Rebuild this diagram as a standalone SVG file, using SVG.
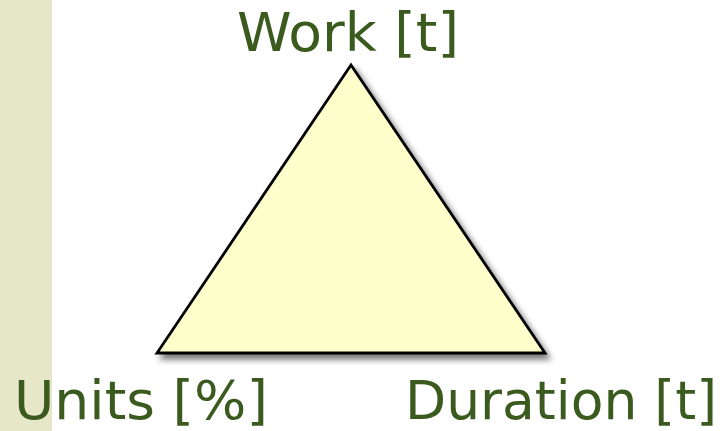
<svg xmlns="http://www.w3.org/2000/svg" width="722" height="431" viewBox="0 0 722 431">
<style>
.lbl{font-family:"DejaVu Sans",Verdana,sans-serif;font-size:54px;fill:#3A5A1E;text-anchor:middle}
</style>
<defs>
<filter id="sh" x="-20%" y="-20%" width="140%" height="140%">
<feGaussianBlur in="SourceAlpha" stdDeviation="3"/>
<feOffset dx="4" dy="5" result="b"/>
<feComponentTransfer><feFuncA type="linear" slope="0.55"/></feComponentTransfer>
<feMerge><feMergeNode/><feMergeNode in="SourceGraphic"/></feMerge>
</filter>
</defs>
<rect x="0" y="0" width="722" height="431" fill="#FFFFFF"/>
<rect x="0" y="0" width="52" height="431" fill="#E6E6C8"/>
<g id="triangle">
<polygon points="351,65 157,353 545,353" fill="#FFFFCC" stroke="#000" stroke-width="2.8" stroke-linejoin="miter" filter="url(#sh)"/>
</g>
<g id="connectors"></g>
<g id="work"><text class="lbl" x="348" y="51" textLength="222" lengthAdjust="spacingAndGlyphs">Work [t]</text></g>
<g id="units"><text class="lbl" x="141" y="419" textLength="254" lengthAdjust="spacingAndGlyphs">Units [%]</text></g>
<g id="duration"><text class="lbl" x="561" y="419" textLength="312" lengthAdjust="spacingAndGlyphs">Duration [t]</text></g>
</svg>
